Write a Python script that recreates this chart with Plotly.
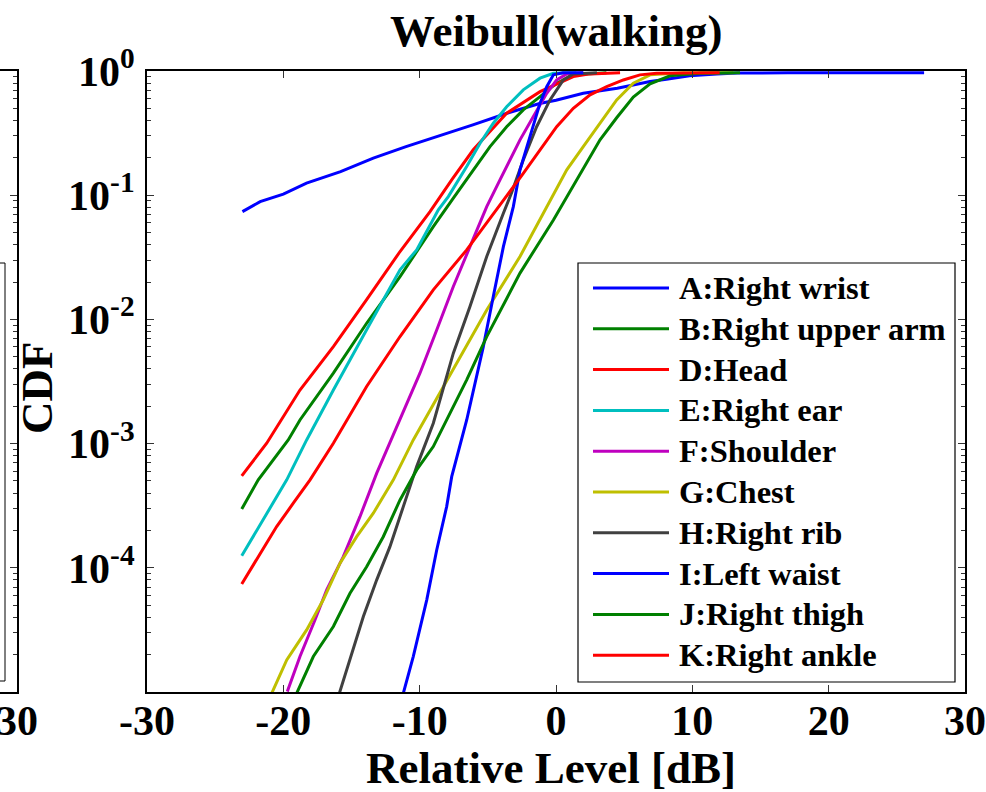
import plotly.graph_objects as go

# ---------------------------------------------------------------- data
names = [
    "A:Right wrist", "B:Right upper arm", "D:Head", "E:Right ear", "F:Shoulder",
    "G:Chest", "H:Right rib", "I:Left waist", "J:Right thigh", "K:Right ankle",
]
colors = [
    "#0000FF", "#008000", "#FF0000", "#00BFBF", "#BF00BF",
    "#BFBF00", "#404040", "#0000FF", "#008000", "#FF0000",
]

# relative level [dB] and empirical CDF for each body position
level_a = [-23.0, -21.7, -20.0, -18.3, -15.8, -13.4, -11.0, -8.5, -6.1, -3.6, -1.2, 0.0,
           2.0, 4.5, 6.9, 8.1, 9.8, 11.8, 13.3, 17.0, 27.0]
cdf_a = [0.0738, 0.0887, 0.102, 0.125, 0.155, 0.199, 0.246, 0.300, 0.368, 0.457, 0.547, 0.582,
         0.662, 0.726, 0.822, 0.859, 0.914, 0.948, 0.962, 0.966, 0.966]

level_b = [-23.05, -21.84, -19.64, -18.78, -16.33, -13.89, -11.44, -9.0, -7.53, -6.07, -4.84,
           -3.62, -2.40, -1.17, 0.05, 1.27, 3.7]
cdf_b = [2.98e-4, 5.11e-4, 1.07e-3, 1.55e-3, 3.69e-3, 9.31e-3, 2.21e-2, 5.58e-2, 9.46e-2, 0.160,
         0.246, 0.356, 0.486, 0.622, 0.798, 0.931, 0.966]

level_d = [-23.05, -21.22, -18.78, -16.33, -13.89, -11.44, -9.24, -7.65, -6.07, -3.62, -1.17,
           1.27, 2.5, 4.7]
cdf_d = [5.5e-4, 1.007e-3, 2.70e-3, 6.04e-3, 1.44e-2, 3.52e-2, 7.38e-2, 0.133, 0.232, 0.457,
         0.682, 0.902, 0.948, 0.966]

level_e = [-23.05, -19.75, -18.29, -16.33, -13.89, -11.44, -10.22, -8.63, -7.9, -6.55, -5.57,
           -4.6, -3.62, -2.4, -1.17, -0.19, 1.5]
cdf_e = [1.25e-4, 5.11e-4, 1.07e-3, 2.70e-3, 8.24e-3, 2.51e-2, 3.63e-2, 7.62e-2, 9.75e-2, 0.170,
         0.262, 0.380, 0.516, 0.705, 0.875, 0.959, 0.966]

level_f = [-19.71, -18.78, -17.68, -16.82, -15.6, -14.38, -13.15, -11.44, -9.98, -8.75, -7.53,
           -6.31, -5.08, -4.11, -3.62, -2.64, -1.66, -0.68, 0.05, 0.79, 2.0]
cdf_f = [1.007e-5, 1.93e-5, 3.80e-5, 6.64e-5, 1.23e-4, 2.58e-4, 5.78e-4, 1.55e-3, 3.69e-3,
         8.22e-3, 1.84e-2, 3.85e-2, 8.09e-2, 0.133, 0.170, 0.279, 0.430, 0.662, 0.847, 0.948, 0.966]

level_g = [-20.85, -19.75, -18.29, -17.07, -15.84, -14.62, -13.4, -11.93, -10.47, -8.51, -6.55,
           -5.08, -2.64, -0.68, 0.79, 2.0, 3.23, 4.45, 5.67, 6.9, 9.34, 13.0]
cdf_g = [9.77e-6, 1.81e-5, 3.16e-5, 5.52e-5, 1.09e-4, 1.78e-4, 2.75e-4, 5.11e-4, 1.07e-3,
         2.55e-3, 6.04e-3, 1.19e-2, 3.21e-2, 8.09e-2, 0.160, 0.246, 0.380, 0.585, 0.798, 0.931,
         0.966, 0.966]

level_h = [-15.89, -15.11, -14.13, -13.15, -12.18, -11.2, -10.22, -9.0, -7.53, -6.31, -5.08,
           -3.86, -3.25, -2.4, -1.42, -0.44, 0.54, 1.27, 3.0]
cdf_h = [9.77e-6, 1.81e-5, 4.05e-5, 8.0e-5, 1.48e-4, 3.11e-4, 6.53e-4, 1.46e-3, 5.35e-3,
         1.27e-2, 3.21e-2, 7.16e-2, 0.105, 0.192, 0.356, 0.585, 0.847, 0.948, 0.966]

level_i = [-11.2, -10.47, -9.48, -8.75, -8.02, -7.65, -6.55, -5.33, -4.6, -3.86, -3.13, -2.64,
           -1.91, -1.17, -0.68, -0.19, 0.5, 2.0]
cdf_i = [9.77e-6, 1.93e-5, 5.52e-5, 1.39e-4, 3.11e-4, 5.42e-4, 1.55e-3, 6.04e-3, 1.53e-2,
         3.85e-2, 8.09e-2, 0.160, 0.296, 0.551, 0.748, 0.931, 0.966, 0.966]

level_j = [-19.02, -17.8, -16.33, -15.11, -13.89, -12.67, -11.44, -10.22, -9.0, -6.55, -5.08,
           -2.64, -0.19, 1.52, 3.23, 4.45, 5.67, 6.9, 8.37, 10.56, 13.5]
cdf_j = [9.77e-6, 1.93e-5, 3.37e-5, 6.24e-5, 1.02e-4, 1.78e-4, 3.52e-4, 6.14e-4, 9.46e-4,
         3.26e-3, 7.26e-3, 2.36e-2, 6.32e-2, 0.133, 0.279, 0.420, 0.618, 0.787, 0.914, 0.957, 0.966]

level_k = [-23.05, -21.95, -20.49, -19.27, -18.04, -16.33, -13.89, -11.44, -9.0, -6.55, -4.6,
           -3.74, -2.4, -1.17, 0.05, 1.27, 2.5, 3.72, 4.94, 6.16, 7.38, 12.0]
cdf_k = [7.41e-5, 1.16e-4, 2.15e-4, 3.31e-4, 5.11e-4, 1.007e-3, 2.88e-3, 7.28e-3, 1.73e-2,
         3.63e-2, 7.16e-2, 9.46e-2, 0.150, 0.232, 0.356, 0.501, 0.643, 0.748, 0.847, 0.931,
         0.959, 0.966]

levels = [level_a, level_b, level_d, level_e, level_f, level_g, level_h, level_i, level_j, level_k]
cdfs = [cdf_a, cdf_b, cdf_d, cdf_e, cdf_f, cdf_g, cdf_h, cdf_i, cdf_j, cdf_k]

x_ticks = [-30, -20, -10, 0, 10, 20, 30]
x_tick_labels = ["-30", "-20", "-10", "0", "10", "20", "30"]
y_ticks = [1, 1e-1, 1e-2, 1e-3, 1e-4]
y_tick_labels = ["10<sup>0</sup>", "10<sup>-1</sup>", "10<sup>-2</sup>",
                 "10<sup>-3</sup>", "10<sup>-4</sup>"]
y_minor = [m * 10.0 ** e for e in range(-5, 0) for m in range(2, 10)]

# ---------------------------------------------------------------- layout
W, H = 986, 792
L, R, T, B = 147, 965, 71, 692          # plot box in pixels
SERIF = "Liberation Serif, Times New Roman, serif"
TICK_SIZE = 42


def px(xp):
    return xp / W


def py(yp):
    return (B - yp) / (B - T)


fig = go.Figure()
for name, color, lv, cd in zip(names, colors, levels, cdfs):
    fig.add_trace(go.Scatter(x=lv, y=cd, mode="lines", name=name,
                             line=dict(color=color, width=3), showlegend=False))

# empty trace so the neighbouring panel's axes get drawn
fig.add_trace(go.Scatter(x=[None], y=[None], xaxis="x2", yaxis="y2",
                         mode="lines", showlegend=False, hoverinfo="skip"))

axis_common = dict(showline=True, linecolor="black", linewidth=2, ticks="inside",
                   tickcolor="#333333", tickwidth=1, ticklen=7, showgrid=False,
                   zeroline=False, mirror="ticks", automargin=False,
                   tickfont=dict(family=SERIF, size=TICK_SIZE, color="black", weight="bold"))

fig.update_layout(
    template="none",
    width=W, height=H,
    margin=dict(l=0, r=0, t=T, b=H - B, pad=0, autoexpand=False),
    paper_bgcolor="white", plot_bgcolor="white",
    showlegend=False,
    xaxis=dict(domain=[px(L), px(R)], range=[-30, 30], tickmode="array",
               tickvals=x_ticks, ticktext=x_tick_labels, ticklabelstandoff=-9,
               **axis_common),
    yaxis=dict(type="log", range=[-5, 0], tickmode="array", tickvals=y_ticks,
               ticktext=y_tick_labels, ticklabelstandoff=2,
               minor=dict(tickmode="array", tickvals=y_minor, ticks="inside",
                          ticklen=4, tickcolor="#333333", showgrid=False),
               **axis_common),
    # neighbouring panel, only its right edge is visible
    xaxis2=dict(domain=[0, px(17)], range=[29.5, 30], anchor="y2", tickmode="array",
                tickvals=[30], ticktext=["30"], ticklabeloverflow="allow",
                ticklabelstandoff=-9,
                showline=True, mirror=True, linecolor="black", linewidth=2, ticks="",
                showgrid=False, zeroline=False, automargin=False,
                tickfont=dict(family=SERIF, size=TICK_SIZE, color="black", weight="bold")),
    yaxis2=dict(domain=[0, 1], type="log", range=[-5, 0], anchor="x2", side="right",
                showline=True, linecolor="black", linewidth=2, ticks="inside",
                tickmode="array", tickvals=y_ticks, ticklen=7, tickcolor="#333333",
                showticklabels=False, showgrid=False, zeroline=False, automargin=False,
                minor=dict(tickmode="array", tickvals=y_minor, ticks="inside",
                           ticklen=4, tickcolor="#333333", showgrid=False)),
)

# titles
fig.add_annotation(text="Weibull(walking)", xref="paper", yref="paper",
                   x=px(556), y=py(31), showarrow=False, xanchor="center", yanchor="middle",
                   font=dict(family=SERIF, size=45, color="black", weight="bold"))
fig.add_annotation(text="Relative Level [dB]", xref="paper", yref="paper",
                   x=px(551), y=py(768), showarrow=False, xanchor="center", yanchor="middle",
                   font=dict(family=SERIF, size=45, color="black", weight="bold"))
fig.add_annotation(text="CDF", xref="paper", yref="paper", textangle=-90,
                   x=px(37), y=py(388), showarrow=False, xanchor="center", yanchor="middle",
                   font=dict(family=SERIF, size=45, color="black", weight="bold"))

# legend box of the neighbouring panel (edge only)
fig.add_shape(type="rect", xref="paper", yref="paper", x0=-0.1, x1=px(5),
              y0=py(681), y1=py(263), line=dict(color="black", width=1))

# legend
LEG_L, LEG_R, LEG_T, LEG_B = 578, 955, 263, 682
fig.add_shape(type="rect", xref="paper", yref="paper", x0=px(LEG_L), x1=px(LEG_R),
              y0=py(LEG_B), y1=py(LEG_T), line=dict(color="black", width=1.2),
              fillcolor="white", layer="above")
row0, step = 288, 40.8
for i, (name, color) in enumerate(zip(names, colors)):
    yy = row0 + i * step
    fig.add_shape(type="line", xref="paper", yref="paper", x0=px(593), x1=px(669),
                  y0=py(yy), y1=py(yy), line=dict(color=color, width=3), layer="above")
    fig.add_annotation(text=name, xref="paper", yref="paper", x=px(677), y=py(yy),
                       showarrow=False, xanchor="left", yanchor="middle",
                       font=dict(family=SERIF, size=32.5, color="black", weight="bold"))

fig.write_html("out.html")
